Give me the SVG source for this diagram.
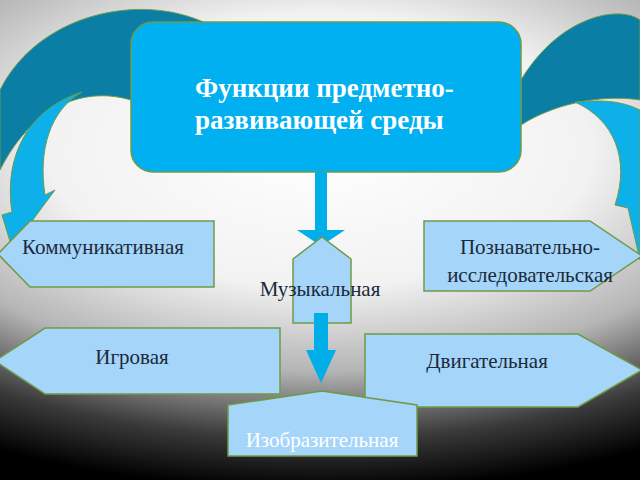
<svg xmlns="http://www.w3.org/2000/svg" width="640" height="480" viewBox="0 0 640 480">
<defs>
<radialGradient id="bg" cx="0" cy="0" r="1" gradientUnits="userSpaceOnUse" gradientTransform="translate(320 150) scale(680 340)">
<stop offset="0" stop-color="#ffffff"/><stop offset="0.4" stop-color="#f2f2f2"/><stop offset="0.65" stop-color="#b5b5b5"/><stop offset="0.85" stop-color="#3a3a3a"/><stop offset="1" stop-color="#000"/>
</radialGradient>
<style>
.n{fill:#a6d5fa;stroke:#6f9a45;stroke-width:1.5}
.t{font-family:"Liberation Serif",serif;font-size:21px;fill:#1a2a3a;text-anchor:middle}
.ar{fill:#00aee8}
.dk{fill:#0a7ea5;stroke:#6f9a45;stroke-width:1}
.lt{fill:#0eb0ea;stroke:#6f9a45;stroke-width:1}
</style>
</defs>
<rect width="640" height="480" fill="url(#bg)"/>
<g id="curves">
<path class="dk" d="M215 28 C150 -10 40 10 0 90 L0 170 C30 110 80 85 131 100 Z"/>
<path class="lt" d="M82 92 C50 110 38 150 45 195 L55 190 L12 248 L2 215 L12 212 C4 160 25 110 82 92 Z"/>
<path class="dk" d="M521 80 C560 15 620 5 640 20 L640 100 C610 95 560 100 521 125 Z"/>
<path class="lt" d="M575 102 C615 120 630 160 615 205 L628 208 L640 260 L640 110 C620 100 600 100 575 102 Z"/>
</g>
<g id="main">
<rect x="131" y="22" width="390" height="150" rx="22" fill="#00b0f0" stroke="#6f9a45" stroke-width="1.5"/>
<text x="195" y="97" font-family="Liberation Serif,serif" font-size="27" font-weight="bold" fill="#fff">Функции предметно-</text>
<text x="195" y="129" font-family="Liberation Serif,serif" font-size="27" font-weight="bold" fill="#fff">развивающей среды</text>
</g>
<g id="connectors">
<path class="ar" d="M315 172 H327 V230 H345 L321 246 L297 230 H315 Z"/>
</g>
<g id="n-comm">
<polygon class="n" points="30,221 214,221 214,287 30,287 -2,254"/>
<text class="t" x="103" y="254">Коммуникативная</text>
</g>
<g id="n-igr">
<polygon class="n" points="45,328 280,328 280,394 45,394 -5,361"/>
<text class="t" x="132" y="364">Игровая</text>
</g>
<g id="n-pozn">
<polygon class="n" points="424,221 590,221 642,256 590,291 424,291"/>
<text class="t" x="530" y="254">Познавательно-</text>
<text class="t" x="530" y="282">исследовательская</text>
</g>
<g id="n-dvig">
<polygon class="n" points="365,334 578,334 642,370 578,407 365,407"/>
<text class="t" x="487" y="368">Двигательная</text>
</g>
<g id="n-muz">
<polygon class="n" points="322,237 351,259 351,323 293,323 293,259"/>
</g>
<g id="connectors2">
<path class="ar" d="M314 313 H328 V350 H336 L321 383 L306 350 H314 Z"/>
</g>
<g id="n-izo">
<polygon class="n" points="322,391 417,405 417,456 228,456 228,405"/>
<text class="t" x="322" y="447" style="fill:#fff">Изобразительная</text>
</g>
<text class="t" x="320" y="296">Музыкальная</text>
</svg>
